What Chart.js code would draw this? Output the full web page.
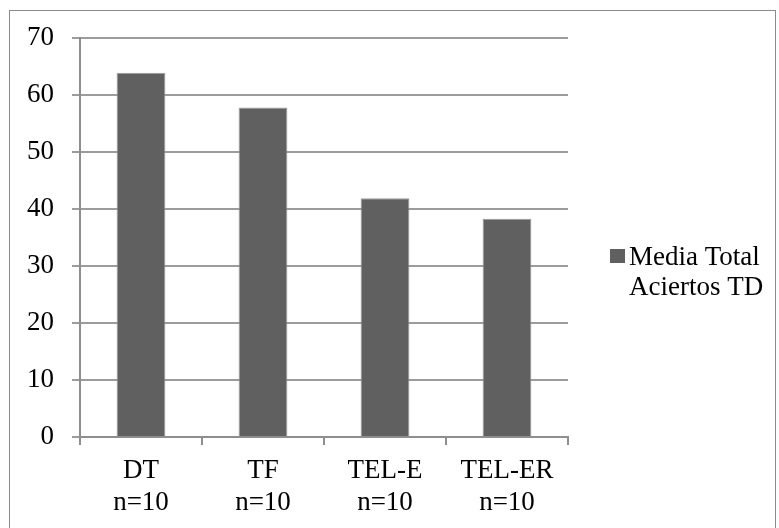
<!DOCTYPE html>
<html>
<head>
<meta charset="utf-8">
<script src="https://cdn.jsdelivr.net/npm/chart.js@4/dist/chart.umd.min.js"></script>
<style>
  html, body { margin: 0; padding: 0; background: #fff; }
  canvas { display: block; }
</style>
</head>
<body>
<canvas id="chart" width="779" height="528"></canvas>
<script>
// Groups and their sample sizes (two-line category labels)
const categories = [['DT', 'n=10'], ['TF', 'n=10'], ['TEL-E', 'n=10'], ['TEL-ER', 'n=10']];
// Mean total correct answers per group
const mediaTotal = [63.9, 57.8, 41.9, 38.3];
// Legend label, split over two lines
const seriesLabel = ['Media Total', 'Aciertos TD'];
// Value-axis tick range
const yMin = 0;
const yMax = 70;
const yStep = 10;

const FONT = "'Liberation Serif', 'DejaVu Serif', serif";
const AXIS_GREY = '#8e8e8e';

// Frame around the whole chart plus a legend on the right
const framePlugin = {
  id: 'frame',
  beforeDraw(chart) {
    const ctx = chart.ctx;
    ctx.save();
    ctx.fillStyle = '#ffffff';
    ctx.fillRect(0, 0, chart.width, chart.height);
    ctx.strokeStyle = '#8a8a8a';
    ctx.lineWidth = 1;
    ctx.strokeRect(9.5, 10.5, 766, 530);
    ctx.restore();
  },
  afterDraw(chart) {
    const ctx = chart.ctx;
    const ds = chart.data.datasets[0];
    const lines = Array.isArray(ds.label) ? ds.label : [ds.label];
    const boxX = 610, boxY = 249, boxW = 15, boxH = 14;
    ctx.save();
    ctx.fillStyle = ds.backgroundColor;
    ctx.fillRect(boxX, boxY, boxW, boxH);
    ctx.fillStyle = '#000';
    ctx.font = '27px ' + FONT;
    ctx.textBaseline = 'alphabetic';
    ctx.textAlign = 'left';
    lines.forEach((t, i) => ctx.fillText(t, 629, 265 + i * 30));
    ctx.restore();
  }
};

new Chart(document.getElementById('chart'), {
  type: 'bar',
  data: {
    labels: categories,
    datasets: [{
      label: seriesLabel,
      data: mediaTotal,
      backgroundColor: '#606060',
      borderColor: '#9a9a9a',
      borderWidth: 1,
      categoryPercentage: 1.0,
      barPercentage: 0.4
    }]
  },
  options: {
    responsive: false,
    animation: false,
    devicePixelRatio: 1,
    layout: { padding: { left: 0, top: 38, right: 211, bottom: 0 } },
    plugins: {
      legend: { display: false },
      tooltip: { enabled: false }
    },
    scales: {
      x: {
        grid: {
          display: true,
          drawOnChartArea: false,
          drawTicks: true,
          tickLength: 8,
          color: AXIS_GREY,
          lineWidth: 2
        },
        border: { display: true, color: AXIS_GREY, width: 2 },
        ticks: {
          color: '#000',
          font: { family: FONT, size: 27, lineHeight: 1.18 },
          padding: 10,
          maxRotation: 0,
          autoSkip: false
        },
        afterFit(scale) { scale.height = 91; }
      },
      y: {
        min: yMin,
        max: yMax,
        grid: {
          color: '#9c9c9c',
          lineWidth: 2,
          drawTicks: true,
          tickLength: 8
        },
        border: { display: true, color: AXIS_GREY, width: 2 },
        ticks: {
          stepSize: yStep,
          color: '#000',
          font: { family: FONT, size: 27 },
          padding: 18
        },
        afterFit(scale) { scale.width = 80; }
      }
    }
  },
  plugins: [framePlugin]
});
</script>
</body>
</html>
